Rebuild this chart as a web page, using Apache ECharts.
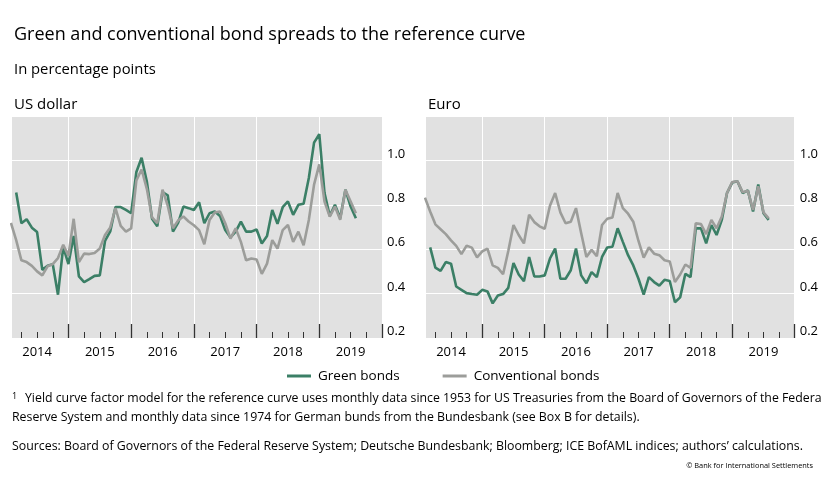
<!DOCTYPE html>
<html>
<head>
<meta charset="utf-8">
<script src="https://cdn.jsdelivr.net/npm/echarts@6/dist/echarts.min.js"></script>
<style>
html,body{margin:0;padding:0;background:#fff;}
#chart{width:821px;height:477px;}
</style>
</head>
<body>
<div id="chart"></div>
<script>
// Months counted from Jan 2014 = 0 (monthly observations)
const convStartMonth = 1;   // first conventional-bond observation
const greenStartMonth = 2;  // first green-bond observation
const yearLabels = ['2014','2015','2016','2017','2018','2019'];
const yTickLabels = ['0.2','0.4','0.6','0.8','1.0'];

const usdGreen = [0.855,0.717,0.735,0.697,0.677,0.507,0.525,0.532,0.395,0.61,
  0.533,0.66,0.478,0.452,0.465,0.48,0.482,0.637,0.68,0.79,
  0.79,0.777,0.762,0.948,1.012,0.905,0.737,0.703,0.857,0.843,
  0.679,0.72,0.792,0.785,0.777,0.811,0.717,0.762,0.77,0.75,
  0.686,0.653,0.679,0.724,0.679,0.679,0.689,0.626,0.659,0.777,
  0.714,0.789,0.815,0.755,0.80,0.805,0.921,1.08,1.118,0.853,
  0.75,0.80,0.739,0.868,0.792,0.739];
const usdConv = [0.718,0.641,0.55,0.542,0.525,0.50,0.482,0.523,0.533,0.56,
  0.62,0.57,0.737,0.542,0.58,0.578,0.583,0.603,0.664,0.698,
  0.785,0.705,0.679,0.694,0.91,0.959,0.872,0.743,0.717,0.868,
  0.796,0.694,0.73,0.747,0.725,0.708,0.686,0.622,0.732,0.765,
  0.77,0.717,0.648,0.694,0.633,0.55,0.558,0.554,0.489,0.535,
  0.641,0.603,0.686,0.709,0.633,0.679,0.618,0.732,0.891,0.982,
  0.815,0.747,0.792,0.732,0.868,0.815,0.762];
const eurGreen = [0.608,0.517,0.502,0.542,0.535,0.432,0.417,0.402,0.398,0.395,
  0.417,0.41,0.356,0.391,0.398,0.426,0.538,0.486,0.456,0.565,
  0.477,0.477,0.482,0.558,0.603,0.467,0.467,0.505,0.603,0.482,
  0.447,0.497,0.474,0.565,0.608,0.611,0.694,0.633,0.573,0.527,
  0.467,0.395,0.474,0.452,0.436,0.462,0.457,0.361,0.383,0.489,
  0.474,0.694,0.694,0.626,0.709,0.664,0.732,0.853,0.90,0.906,
  0.853,0.865,0.77,0.891,0.762,0.732];
const eurConv = [0.832,0.77,0.712,0.69,0.668,0.64,0.615,0.578,0.616,0.607,
  0.563,0.59,0.603,0.527,0.516,0.487,0.592,0.709,0.664,0.626,
  0.755,0.722,0.703,0.692,0.796,0.853,0.766,0.717,0.724,0.785,
  0.672,0.565,0.597,0.568,0.709,0.737,0.743,0.853,0.785,0.76,
  0.724,0.637,0.562,0.608,0.58,0.573,0.55,0.545,0.452,0.486,
  0.531,0.516,0.717,0.713,0.668,0.732,0.694,0.747,0.853,0.903,
  0.906,0.857,0.863,0.777,0.883,0.766,0.739];

const FONT = '"Open Sans", "Noto Sans", sans-serif';
const GREEN = '#3b7f66';
const GREY = '#9c9d9a';
const BG = '#e1e1e1';
const X_MIN = 1.2, X_MAX = 72;

function pairs(start, vals){ return vals.map((v,i)=>[start+i, v]); }
const quarterTicks = [], yearTicks = [], labelPos = [];
for (let y = 0; y < 6; y++) {
  [3,6,9].forEach(q => quarterTicks.push(y*12+q));
  yearTicks.push((y+1)*12);
  labelPos.push(y*12+6);
}

function xAxesFor(gridIndex){
  return [
    { type:'value', gridIndex, position:'bottom', min:X_MIN, max:X_MAX,
      axisLine:{show:false, onZero:false},
      axisTick:{show:true, inside:true, length:6, lineStyle:{color:'#333', width:1}, customValues:quarterTicks},
      axisLabel:{show:true, customValues:labelPos, margin:8, fontSize:13, color:'#000', fontFamily:FONT,
        formatter: v => yearLabels[Math.floor(v/12)] || ''},
      splitLine:{show:false} },
    { type:'value', gridIndex, position:'bottom', min:X_MIN, max:X_MAX,
      axisLine:{show:false, onZero:false},
      axisTick:{show:true, inside:true, length:14, lineStyle:{color:'#333', width:1.3}, customValues:yearTicks},
      axisLabel:{show:false},
      splitLine:{show:true, lineStyle:{color:'#ffffff', width:1}} }
  ];
}
function yAxisFor(gridIndex){
  return { type:'value', gridIndex, position:'right', min:0.2, max:1.2, interval:0.2,
    axisLine:{show:false}, axisTick:{show:false},
    axisLabel:{show:true, margin:5, align:'left', verticalAlign:'bottom', fontSize:13, color:'#000', fontFamily:FONT,
      formatter: v => { const i = Math.round((v-0.2)/0.2); return yTickLabels[i] || ''; }},
    splitLine:{show:true, lineStyle:{color:'#ffffff', width:1}} };
}
function lineSeries(name, color, xi, yi, data){
  return { name, type:'line', xAxisIndex:xi, yAxisIndex:yi, data, showSymbol:false, symbol:'none',
    lineStyle:{color, width:2.6}, itemStyle:{color}, z:3 };
}

const chart = echarts.init(document.getElementById('chart'), null, {renderer:'canvas'});
chart.setOption({
  animation:false,
  textStyle:{fontFamily:FONT},
  title:[
    {text:'Green and conventional bond spreads to the reference curve', left:9, top:21,
      textStyle:{fontSize:18, fontWeight:'normal', color:'#000', fontFamily:FONT}},
    {text:'In percentage points', left:9, top:57,
      textStyle:{fontSize:14.8, fontWeight:'normal', color:'#000', fontFamily:FONT}},
    {text:'US dollar', left:9, top:92,
      textStyle:{fontSize:15, fontWeight:'normal', color:'#000', fontFamily:FONT}},
    {text:'Euro', left:423, top:92,
      textStyle:{fontSize:15, fontWeight:'normal', color:'#000', fontFamily:FONT}}
  ],
  legend:{ data:['Green bonds','Conventional bonds'], left:282, top:364, itemWidth:24, itemHeight:3,
    itemGap:43, icon:'rect', textStyle:{fontSize:13.5, color:'#000', fontFamily:FONT, padding:[0,0,0,2]} },
  grid:[
    {left:12, top:116, width:370, height:222, show:true, backgroundColor:BG, borderWidth:0, containLabel:false},
    {left:426, top:116, width:369, height:222, show:true, backgroundColor:BG, borderWidth:0, containLabel:false}
  ],
  xAxis:[...xAxesFor(0), ...xAxesFor(1)],
  yAxis:[yAxisFor(0), yAxisFor(1)],
  series:[
    lineSeries('Green bonds', GREEN, 0, 0, pairs(greenStartMonth, usdGreen)),
    lineSeries('Conventional bonds', GREY, 0, 0, pairs(convStartMonth, usdConv)),
    lineSeries('Green bonds', GREEN, 2, 1, pairs(greenStartMonth, eurGreen)),
    lineSeries('Conventional bonds', GREY, 2, 1, pairs(convStartMonth, eurConv))
  ],
  graphic:[
    {type:'text', left:12, top:392, style:{text:'1', fontSize:9, fill:'#000', fontFamily:FONT}},
    {type:'text', left:25, top:392, style:{text:'Yield curve factor model for the reference curve uses monthly data since 1953 for US Treasuries from the Board of Governors of the Federal', fontSize:12.3, fill:'#000', fontFamily:FONT}},
    {type:'text', left:12, top:411, style:{text:'Reserve System and monthly data since 1974 for German bunds from the Bundesbank (see Box B for details).', fontSize:12.35, fill:'#000', fontFamily:FONT}},
    {type:'text', left:12, top:440, style:{text:'Sources: Board of Governors of the Federal Reserve System; Deutsche Bundesbank; Bloomberg; ICE BofAML indices; authors\u2019 calculations.', fontSize:12.35, fill:'#000', fontFamily:FONT}},
    {type:'text', right:8, top:462, style:{text:'\u00a9 Bank for International Settlements', fontSize:7.4, fill:'#000', fontFamily:FONT}}
  ]
});
</script>
</body>
</html>
